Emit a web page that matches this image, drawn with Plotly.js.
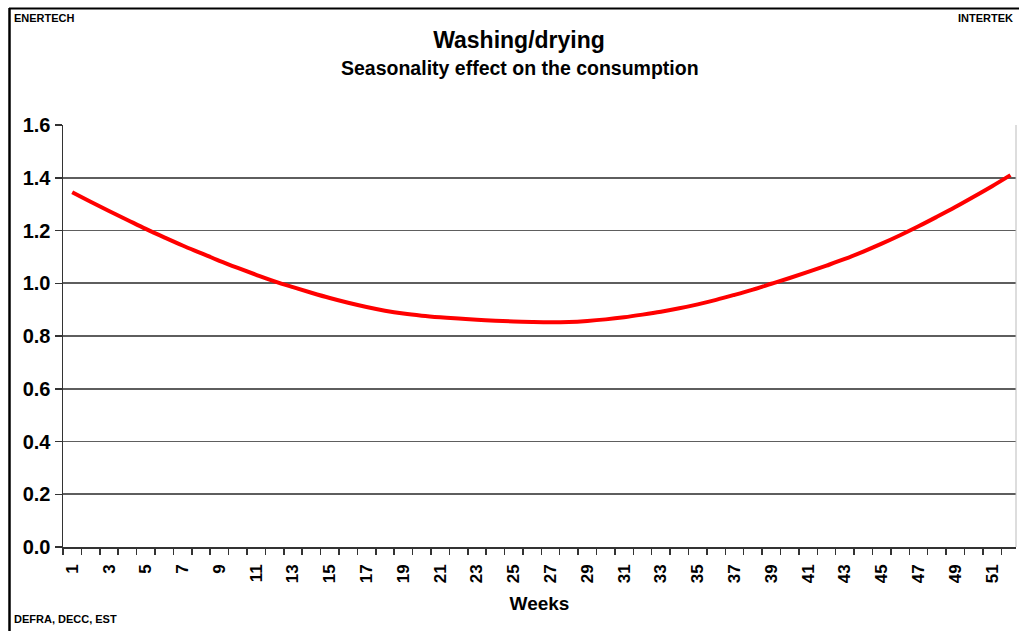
<!DOCTYPE html>
<html>
<head>
<meta charset="utf-8">
<script src="https://cdn.plot.ly/plotly-3.0.1.min.js"></script>
<style>html,body{margin:0;padding:0;background:#fff;}#chart{width:1019px;height:631px;}</style>
</head>
<body>
<div id="chart"></div>
<script>
// ---- data ----
var weeks = [1,2,3,4,5,6,7,8,9,10,11,12,13,14,15,16,17,18,19,20,21,22,23,24,25,26,
             27,28,29,30,31,32,33,34,35,36,37,38,39,40,41,42,43,44,45,46,47,48,49,50,51,52];
var seasonality = [1.345,1.309,1.274,1.240,1.206,1.174,1.143,1.114,1.085,1.058,1.032,1.007,
                   0.985,0.964,0.944,0.926,0.910,0.896,0.885,0.877,0.871,0.866,0.862,0.858,
                   0.855,0.853,0.852,0.853,0.857,0.863,0.871,0.881,0.892,0.905,0.920,0.937,
                   0.956,0.976,0.998,1.020,1.043,1.067,1.092,1.120,1.150,1.182,1.216,1.252,
                   1.289,1.328,1.368,1.410];
var xTickVals = [1,3,5,7,9,11,13,15,17,19,21,23,25,27,29,31,33,35,37,39,41,43,45,47,49,51];
var xTickText = ['1','3','5','7','9','11','13','15','17','19','21','23','25','27','29','31','33','35','37','39','41','43','45','47','49','51'];
var yTickVals = [0,0.2,0.4,0.6,0.8,1.0,1.2,1.4,1.6];
var yTickText = ['0.0','0.2','0.4','0.6','0.8','1.0','1.2','1.4','1.6'];
var chartTitle = 'Washing/drying';
var chartSubtitle = 'Seasonality effect on the consumption';
var xTitle = 'Weeks';
var cornerTL = 'ENERTECH', cornerTR = 'INTERTEK', cornerBL = 'DEFRA, DECC, EST';

// ---- layout helpers (pixel -> paper) ----
var W = 1019, H = 631, mL = 63, mR = 3, mT = 125, mB = 84;
var pw = W - mL - mR, ph = H - mT - mB;
function px(x){ return (x - mL) / pw; }
function py(y){ return (H - mB - y) / ph; }

var FONT = 'Liberation Sans, Arial, sans-serif';

var trace = {
  x: weeks, y: seasonality, type: 'scatter', mode: 'lines',
  line: {color: '#ff0000', width: 4, shape: 'spline'},
  hoverinfo: 'skip', showlegend: false
};

var layout = {
  width: W, height: H,
  margin: {l: mL, r: mR, t: mT, b: mB, pad: 0},
  paper_bgcolor: '#ffffff', plot_bgcolor: '#ffffff',
  font: {family: FONT, color: '#000'},
  title: {
    text: chartTitle, font: {family: FONT, size: 23, weight: 'bold', color: '#000'},
    xref: 'paper', x: px(519), xanchor: 'center',
    yref: 'container', y: 1 - 40/H, yanchor: 'middle'
  },
  xaxis: {
    range: [0.5, 52.3], showgrid: false, zeroline: false,
    showline: true, linecolor: '#333', linewidth: 1.5,
    tickmode: 'array', tickvals: xTickVals, ticktext: xTickText,
    ticks: '', tickangle: -90, ticklabelstandoff: 9,
    tickfont: {family: FONT, size: 17, weight: 'bold', color: '#000'},
    minor: {tick0: 0.5, dtick: 1, ticks: 'outside', ticklen: 6, tickwidth: 1.5, tickcolor: '#333', showgrid: false},
    title: {text: xTitle, font: {family: FONT, size: 19, weight: 'bold', color: '#000'}, standoff: 14},
    fixedrange: true
  },
  yaxis: {
    range: [0, 1.6], tickmode: 'array', tickvals: yTickVals, ticktext: yTickText,
    showgrid: true, gridcolor: '#5e5e5e', gridwidth: 1.6, zeroline: false,
    showline: true, linecolor: '#333', linewidth: 1.5,
    ticks: 'outside', ticklen: 7, tickwidth: 1.5, tickcolor: '#333',
    tickfont: {family: FONT, size: 20, weight: 'bold', color: '#000'},
    fixedrange: true
  },
  annotations: [
    {text: chartSubtitle, xref: 'paper', yref: 'paper', x: px(520), y: py(68),
     xanchor: 'center', yanchor: 'middle', showarrow: false,
     font: {family: FONT, size: 19.5, weight: 'bold', color: '#000'}},
    {text: cornerTL, xref: 'paper', yref: 'paper', x: px(12), y: py(18),
     xanchor: 'left', yanchor: 'middle', showarrow: false,
     font: {family: FONT, size: 11, weight: 'bold', color: '#000'}},
    {text: cornerTR, xref: 'paper', yref: 'paper', x: px(1015), y: py(18),
     xanchor: 'right', yanchor: 'middle', showarrow: false,
     font: {family: FONT, size: 11, weight: 'bold', color: '#000'}},
    {text: cornerBL, xref: 'paper', yref: 'paper', x: px(12), y: py(619),
     xanchor: 'left', yanchor: 'middle', showarrow: false,
     font: {family: FONT, size: 11, weight: 'bold', color: '#000'}}
  ],
  shapes: [
    {type: 'line', xref: 'paper', yref: 'paper', x0: px(9.5), x1: px(9.5), y0: py(8), y1: py(631),
     line: {color: '#000', width: 2.5}},
    {type: 'line', xref: 'paper', yref: 'paper', x0: px(9), x1: px(1019), y0: py(8.5), y1: py(8.5),
     line: {color: '#000', width: 2}},
    {type: 'line', xref: 'paper', yref: 'paper', x0: 1, x1: 1, y0: 0, y1: 1,
     line: {color: '#bbbbbb', width: 1}}
  ]
};

Plotly.newPlot('chart', [trace], layout, {displayModeBar: false, staticPlot: true});
</script>
</body>
</html>
